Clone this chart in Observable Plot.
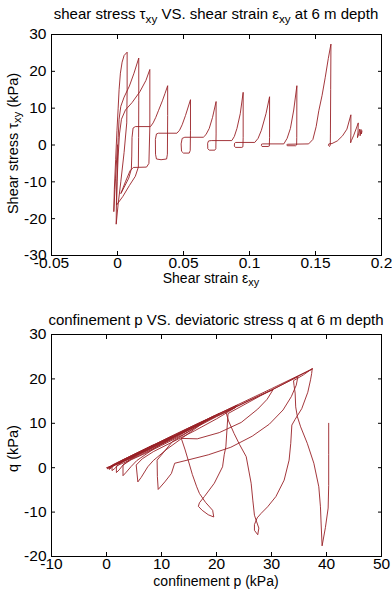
<!DOCTYPE html>
<html><head><meta charset="utf-8">
<script src="https://cdn.jsdelivr.net/npm/d3@7"></script>
<script src="https://cdn.jsdelivr.net/npm/@observablehq/plot@0.6"></script>
<style>
html,body{margin:0;padding:0;background:#fff;}
#root{position:relative;width:392px;height:600px;overflow:hidden;font-family:"Liberation Sans",Arial,sans-serif;color:#000;background:#fff;}
.panel{position:absolute;left:0;}
.lbl{position:absolute;white-space:nowrap;line-height:1;text-align:center;}
.lbl sub{font-size:78%;vertical-align:-0.32em;line-height:0;}
.rot{transform:rotate(-90deg);transform-origin:50% 50%;}
</style></head><body>
<div id="root">
  <div class="panel" id="p1" style="top:0"></div>
  <div class="panel" id="p2" style="top:300px"></div>
  <div class="lbl" style="left:16px;width:400px;top:6px;font-size:15px;">shear stress τ<sub>xy</sub> VS. shear strain ε<sub>xy</sub> at 6 m depth</div>
  <div class="lbl" style="left:51px;width:320px;top:271px;font-size:14px;">Shear strain ε<sub>xy</sub></div>
  <div class="lbl rot" style="left:-137px;width:300px;top:136px;font-size:14.5px;height:15px;">Shear stress τ<sub>xy</sub> (kPa)</div>
  <div class="lbl" style="left:16px;width:400px;top:312px;font-size:15px;">confinement p VS. deviatoric stress q at 6 m depth</div>
  <div class="lbl" style="left:51px;width:330px;top:574px;font-size:14px;">confinement p (kPa)</div>
  <div class="lbl rot" style="left:-137px;width:300px;top:441px;font-size:14.5px;height:15px;">q (kPa)</div>
</div>
<script>
// ---------- Top panel: shear strain (x) vs shear stress (y), kPa ----------
const strainTicks = [-0.05, 0, 0.05, 0.1, 0.15, 0.2];
const stressTicks = [-30, -20, -10, 0, 10, 20, 30];

const tauCycle0 = [[0,0],[-0.0015,-9],[-0.0028,-18.1]];
const tauCycle1 = [[-0.0024,-12],[-0.0014,-4],[-0.0004,4],[0.0005,10],[0.0012,15],[0.0022,19.5],[0.0035,22.5],[0.005,24.3],[0.0073,25.2]];
const tauCycle2 = [[0.0073,15],[0.007,6],[0.005,-2],[0.0025,-10],[0.0005,-16],[-0.001,-21.5],[-0.0008,-15],[-0.0002,-6],[0.0005,2],[0.0012,7],[0.0025,10.5],[0.005,13],[0.009,16],[0.0125,19.5],[0.0161,23.6]];
const tauCycle3 = [[0.0161,12],[0.016,2],[0.0158,-6],[0.0135,-8.5],[0.009,-11],[0.004,-14],[-0.0007,-16.3],[-0.0003,-10],[0.0005,-3],[0.0015,3],[0.003,7],[0.006,9.5],[0.011,11.5],[0.017,14.5],[0.0215,17.5],[0.0245,20.5]];
const tauCycle4 = [[0.0245,5],[0.0238,-5],[0.022,-6],[0.012,-6.1],[0.0095,-7],[0.006,-10],[0.0025,-13.2],[0.005,-11.5],[0.0085,-9],[0.0105,-6.5],[0.0108,-3],[0.011,2],[0.0118,4.6],[0.0135,5],[0.025,5],[0.027,6],[0.029,7.5],[0.031,9.3],[0.034,12],[0.036,14],[0.038,16.1]];
const tauCycle5 = [[0.038,8],[0.0378,-2.5],[0.0372,-3.8],[0.033,-4],[0.0295,-3.8],[0.0288,-2.5],[0.0287,1.5],[0.0295,3.0],[0.031,3.2],[0.045,3.2],[0.047,4],[0.049,5.5],[0.0515,8],[0.0553,12.3]];
const tauCycle6 = [[0.0553,4],[0.0551,-1.5],[0.0543,-2.2],[0.050,-2.2],[0.0485,-1.7],[0.0482,0.3],[0.049,1.8],[0.051,2.1],[0.065,2.1],[0.067,2.8],[0.0695,4.5],[0.072,7.5],[0.0747,11.8]];
const tauCycle7 = [[0.0747,3],[0.0745,-1],[0.0737,-1.4],[0.0695,-1.4],[0.0684,-1],[0.0683,0.5],[0.069,1.1],[0.071,1.2],[0.0866,1.2],[0.0885,2.3],[0.0905,4.5],[0.093,8.5],[0.0952,14.3]];
const tauCycle8 = [[0.0952,2],[0.095,-0.5],[0.0942,-0.65],[0.0893,-0.65],[0.0885,-0.3],[0.0887,0.5],[0.0895,0.7],[0.104,0.7],[0.1065,1.8],[0.109,4],[0.1125,8.5],[0.1152,13.1]];
const tauCycle9 = [[0.1152,2],[0.115,-0.3],[0.1142,-0.4],[0.1095,-0.4],[0.109,-0.1],[0.1092,0.25],[0.110,0.3],[0.126,0.3],[0.1285,1.8],[0.131,4.5],[0.1335,9.5],[0.1359,16.1]];
const tauCycle10 = [[0.1358,2],[0.1357,0],[0.135,-0.2],[0.1286,-0.2],[0.1283,0.1],[0.129,0.2],[0.1448,0.3],[0.148,1.5],[0.1505,5],[0.1525,9.3],[0.155,13.5],[0.1574,18.4],[0.1597,23.5],[0.1617,27.4]];
const tauCycle11 = [[0.1615,15],[0.1613,3],[0.1612,0],[0.1606,-0.4],[0.1598,-0.1],[0.1601,0.3],[0.1625,0.4],[0.1665,1.1],[0.1705,2.5],[0.1738,4.3],[0.1768,8.2]];
const tauCycle12 = [[0.1768,3],[0.1766,0.6],[0.1772,1.2],[0.1788,2.5],[0.181,4.6],[0.1824,6.0],[0.1822,3.5],[0.1818,2.0],[0.1828,3.2],[0.1835,4.3],[0.1838,2.5],[0.1845,4.2],[0.1848,3.0],[0.1852,3.8]];

// ---------- Bottom panel: confinement p (x) vs deviatoric stress q (y), kPa ----------
const pTicks = [-10, 0, 10, 20, 30, 40, 50];
const qTicks = [-20, -10, 0, 10, 20, 30];

const pqStart = [[40.4,10],[40.4,3],[40.4,-4],[40.3,-9.1],[39.8,-13.5],[39.2,-17.6]];
const pqCycle1 = [[39.0,-12],[38.9,-8.8],[38.6,-4.3],[37.7,1.0],[36.5,5.5],[35.3,9.2],[34.7,11.5],[34.4,13.7],[34.3,16.8],[34.1,18.5],[34.0,19.6],[35.8,20.9],[37.4,22.3]];
const pqCycle2 = [[37.3,21.2],[37.1,19.8],[36.6,17],[35.5,13.3],[34.3,10.9],[33.7,9.6],[33.5,5.5],[33.2,1.7],[32.3,-2.8],[30.8,-6.5],[29.3,-8.8],[28.1,-10.3],[27.4,-11.3],[26.9,-12.8],[26.9,-14.1],[27.5,-15.1],[27.7,-13.6],[27.3,-12.2],[26.9,-10.7],[26.6,-7.3],[26.3,-3.5],[25.4,2.5],[24.2,5.2],[23.2,7.7],[22.2,10.5],[21.7,12.6],[26,15.2],[30.3,17.6]];
const pqCycle3 = [[29.2,15.4],[27.5,13.2],[24.5,10.2],[20.5,7.9],[16.5,6.5],[13.6,6.6],[14.3,4],[14.9,1.5],[15.6,-1.5],[16.4,-4.3],[16.9,-5.8],[18,-7.8],[19.3,-9.6],[19.5,-11.1],[18.5,-10.6],[17.4,-9.6],[16.7,-8.7],[16.9,-7.9],[17.8,-6.5],[19.6,-3.5],[21.1,0.2],[21.4,2.9],[21.7,4.7],[21.9,8.5],[22.1,12.2],[28,16.2],[34.8,20.5]];
const pqCycle4 = [[34.5,18.6],[33.6,16],[32.1,13],[29.6,9.8],[26.5,7.1],[22.6,4.6],[18.5,2.9],[15,1.8],[12.4,1.0],[11.8,-1.3],[10.6,-3.2],[9.4,-4.9],[9.25,-2],[9.2,1.7],[12,5.9],[16,8.9],[20,11.5],[23.5,13.6]];
const pqCycle5 = [[20,11.0],[16,8.3],[12,5.8],[8.5,3.6],[6.5,2.0],[5.4,0.6],[5.7,-3.2],[6.3,-2.2],[7.5,0.2],[8.5,1.6],[11,4.2],[14,6.9],[17.8,10.3]];
const pqCycle6 = [[14,7.5],[10,5],[7,3.2],[4.5,1.8],[3.0,0.6],[3.0,-1.8],[3.6,-1.0],[4.5,0.3],[5.5,1.6],[9,4.6],[13,7.5],[17,10.0]];
const pqCycle7 = [[13,7.1],[9,4.6],[6,2.8],[3.5,1.3],[1.8,0.4],[1.8,-1.1],[2.3,-0.5],[3,0.6],[4.2,1.8],[8,4.5],[14,8.2],[20.5,12.2]];
const pqCycle8 = [[16,9.2],[11,6],[7,3.6],[3.5,1.6],[1.0,0.3],[1.0,-0.65],[1.5,-0.2],[2.3,0.8],[3.5,1.8],[8,4.7],[13,7.6],[19.5,11.6]];
const pqCycle9 = [[15,8.6],[10,5.5],[5.5,2.9],[2.5,1.1],[0.5,0.15],[0.5,-0.4],[0.9,0],[1.6,0.7],[2.8,1.6],[8,4.8],[15,9],[23.8,14.1]];
const pqCycle10 = [[18,10.4],[12,6.8],[6,3.2],[2.5,1.1],[0.2,0.05],[0.2,-0.25],[0.5,0.1],[1.2,0.7],[2.5,1.5],[8,4.8],[15,9],[22,13.1],[30,17.8],[37.5,22.3]];
const pqCycle11 = [[30,17.5],[20,11.6],[10,5.7],[4,2.1],[0.6,0.2],[0.6,-0.2],[1,0.3],[3.5,2],[7,4.1],[12,7.1],[8,4.5],[4,2],[0.9,0.3],[0.6,-0.1],[0.9,0.4],[3,1.8],[8.5,5.1],[4,2.2],[0.5,0.2],[0,0],[0.3,-0.2],[0.6,0.2]];

const lineColor = "#982026";
const topPath = [tauCycle0, tauCycle1, tauCycle2, tauCycle3, tauCycle4, tauCycle5, tauCycle6, tauCycle7, tauCycle8, tauCycle9, tauCycle10, tauCycle11, tauCycle12].flat();
const bottomPath = [pqStart, pqCycle1, pqCycle2, pqCycle3, pqCycle4, pqCycle5, pqCycle6, pqCycle7, pqCycle8, pqCycle9, pqCycle10, pqCycle11].flat();

const fmt = d => String(d);
const font = {fontFamily: "'Liberation Sans', Arial, sans-serif", fontSize: "16px", background: "transparent", color: "#000", overflow: "visible"};

function panel(path, xDom, yDom, xT, yT, mb) {
  return Plot.plot({
    width: 392, height: 300,
    marginLeft: 51, marginRight: 11, marginTop: 34, marginBottom: mb,
    style: font,
    x: {domain: xDom}, y: {domain: yDom},
    marks: [
      Plot.line(path, {x: d => d[0], y: d => d[1], stroke: lineColor, strokeWidth: 0.9, strokeLinejoin: "round"}),
      Plot.frame({stroke: "#000", strokeWidth: 1}),
      Plot.axisX(xT, {anchor: "bottom", tickSize: -4, tickPadding: 5, tickFormat: fmt, label: null, fontSize: 15.5}),
      Plot.axisX(xT, {anchor: "top", tickSize: -4, tickFormat: () => "", label: null}),
      Plot.axisY(yT, {anchor: "left", tickSize: -4, tickPadding: 9, tickFormat: fmt, label: null, fontSize: 15.5}),
      Plot.axisY(yT, {anchor: "right", tickSize: -4, tickFormat: () => "", label: null})
    ]
  });
}

document.getElementById("p1").appendChild(panel(topPath, [-0.05, 0.2], [-30, 30], strainTicks, stressTicks, 45));
document.getElementById("p2").appendChild(panel(bottomPath, [-10, 50], [-20, 30], pTicks, qTicks, 44));
</script>
</body></html>
